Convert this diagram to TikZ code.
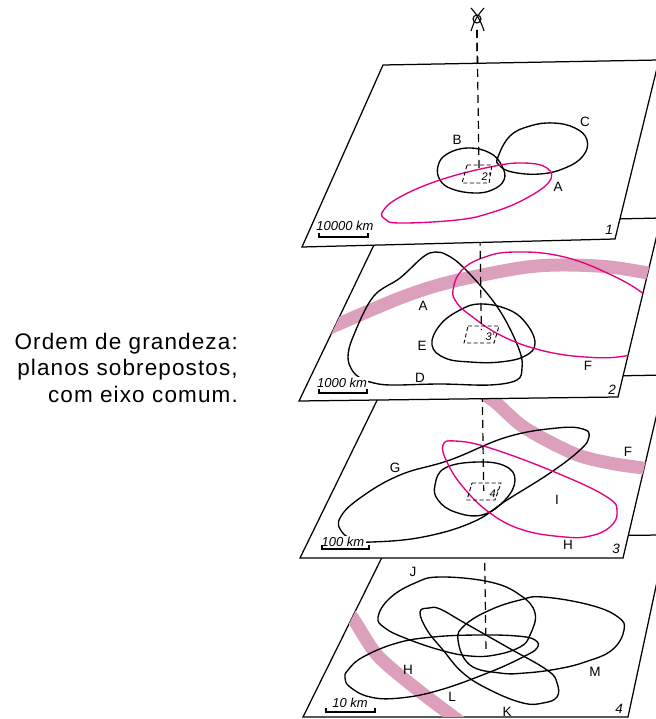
\documentclass[tikz,border=0pt]{standalone}
\usepackage{fontspec}
\setmainfont{Liberation Sans}
\newfontfamily\capfont[LetterSpace=5]{Liberation Sans}
\usetikzlibrary{calc}
\definecolor{pinkc}{RGB}{230,0,126}
\definecolor{bandc}{RGB}{220,160,188}
\tikzset{
  plane/.style={draw=black, fill=white, line width=1.25pt, line join=miter},
  curve/.style={line width=1.35pt},
  pinkcurve/.style={line width=1.35pt, draw=pinkc},
  band/.style={line width=13pt, draw=bandc},
  axisline/.style={line width=1.2pt, dash pattern=on 8pt off 5pt},
  minirect/.style={line width=0.9pt, dash pattern=on 4pt off 2.5pt},
  lbl/.style={font=\fontsize{13.5}{13.5}\selectfont, inner sep=0pt},
  ilbl/.style={font=\fontsize{13.5}{13.5}\selectfont\itshape, inner sep=0pt},
  slbl/.style={font=\fontsize{11}{11}\selectfont\itshape, inner sep=0pt},
  kmlbl/.style={font=\fontsize{13}{13}\selectfont\itshape, inner sep=1.5pt, fill=white},
  scalebar/.style={line width=1.1pt},
  captxt/.style={font=\fontsize{22.5}{26}\capfont, inner sep=0pt, anchor=base east},
}
\begin{document}
\begin{tikzpicture}[x=1pt, y=-1pt]
\useasboundingbox (0,0) rectangle (655,719);
\coordinate (axtop) at (477,30);
\coordinate (axbot) at (486,650);

% ---------------- plane 4 ----------------
\draw[plane] (392,537) -- (667,535) -- (628,717) -- (303,717) -- cycle;
\begin{scope}
\clip (392,537) -- (667,535) -- (628,717) -- (303,717) -- cycle;
\draw[band] plot[smooth] coordinates {(336,595) (354,620) (378,656) (418,690) (455,718) (470,730)};
\draw[curve] plot[smooth cycle, tension=0.7] coordinates {(378,617) (390,598) (415,583) (440,577) (490,582) (520,595) (535,613) (530,635) (520,647) (495,655) (470,656) (440,650) (405,638) (385,628)};
\draw[curve] plot[smooth cycle, tension=0.7] coordinates {(458,640) (465,625) (490,610) (520,600) (543,597) (590,605) (618,617) (624,630) (612,650) (585,662) (557,669) (525,673) (500,673) (470,665)};
\draw[curve] plot[smooth cycle, tension=0.7] coordinates {(420,612) (429,608) (440,609) (463,622) (507,647) (547,670) (557,683) (557,697) (543,703) (523,703) (490,690) (463,673) (443,650) (427,630)};
\draw[curve] plot[smooth cycle, tension=0.7] coordinates {(345,678) (350,687) (370,697) (400,698) (440,690) (490,672) (523,657) (537,648) (535,640) (517,636) (477,635) (433,637) (397,643) (363,657) (348,670)};
\end{scope}
\node[lbl] (J) at (413,572) {J};
\node[lbl] (M) at (595,672) {M};
\node[lbl] (K) at (507,712) {K};
\node[lbl] (L) at (452,697) {L};
\node[lbl] (H4) at (408,670) {H};
\node[kmlbl] (km4) at (350,703) {10 km};
\draw[scalebar] (326,708) -- (326,712) -- (375,712) -- (375,708);
\node[ilbl] (n4) at (619,709) {4};
\draw[axisline] (axtop) -- ($(axtop)!1.003!(axbot)$);

% ---------------- plane 3 ----------------
\draw[plane] (387,380) -- (666,375) -- (623,558) -- (300,558) -- cycle;
\begin{scope}
\clip (387,380) -- (666,375) -- (623,558) -- (300,558) -- cycle;
\draw[band] plot[smooth] coordinates {(470,385) (495,402) (525,428) (575,454) (615,464) (660,470)};
\draw[curve] plot[smooth cycle, tension=0.7] coordinates {(372,542) (423,537) (473,522) (507,500) (550,473) (580,450) (589,437) (583,429) (557,428) (507,437) (450,460) (400,475) (360,498) (340,518) (342,532) (355,540)};
\draw[curve] plot[smooth cycle, tension=0.7] coordinates {(435,485) (445,468) (477,462) (505,466) (515,480) (505,500) (482,515) (455,512) (438,500)};
\draw[pinkcurve] plot[smooth cycle, tension=0.7] coordinates {(443,445) (455,441) (490,448) (557,473) (607,497) (617,512) (610,527) (590,536) (565,537) (523,530) (490,513) (463,487) (447,462)};
\end{scope}
\draw[minirect] (472,483) -- (501,483) -- (495,500) -- (467,500) -- cycle;
\node[slbl] (r4) at (494,494) {4'};
\node[lbl] (G) at (395,468) {G};
\node[lbl] (I) at (557,500) {I};
\node[lbl] (H3) at (568,545) {H};
\node[lbl] (F3) at (628,452) {F};
\node[kmlbl] (km3) at (343,542) {100 km};
\draw[scalebar] (322,545) -- (322,549) -- (369,549) -- (369,545);
\node[ilbl] (n3) at (616,549) {3};
\draw[axisline] (axtop) -- ($(axtop)!0.7435!(axbot)$);

% ---------------- plane 2 ----------------
\draw[plane] (384,224) -- (661,218) -- (618,397) -- (299,401) -- cycle;
\begin{scope}
\clip (384,224) -- (661,218) -- (618,397) -- (299,401) -- cycle;
\draw[band] plot[smooth] coordinates {(325,330) (400,298) (450,282) (520,268) (560,265) (610,267) (665,276)};
\draw[curve] plot[smooth cycle, tension=0.6] coordinates {(370,382) (390,385) (440,384) (490,385) (517,380) (522,368) (520,352) (507,323) (490,297) (463,267) (447,255) (435,252) (423,257) (400,278) (373,297) (353,337) (348,357) (352,370) (360,378)};
\draw[curve] plot[smooth cycle, tension=0.7] coordinates {(432,345) (440,325) (460,310) (480,304) (507,309) (525,322) (535,343) (525,356) (500,362) (470,362) (445,358)};
\draw[pinkcurve] plot[smooth cycle, tension=0.7] coordinates {(453,290) (462,270) (485,257) (515,252) (560,256) (605,272) (645,295) (668,322) (660,345) (625,356) (585,357) (540,350) (500,335) (470,315) (457,303)};
\end{scope}
\draw[minirect] (468,326) -- (499,326) -- (494,343) -- (464,343) -- cycle;
\node[slbl] (r3) at (490,337) {3'};
\node[lbl] (A2) at (423,306) {A};
\node[lbl] (D) at (420,378) {D};
\node[lbl] (E) at (422,346) {E};
\node[lbl] (F2) at (588,366) {F};
\node[kmlbl] (km2) at (342,383) {1000 km};
\draw[scalebar] (319,389) -- (319,393) -- (367,393) -- (367,389);
\node[ilbl] (n2) at (612,390) {2};
\draw[axisline] (axtop) -- ($(axtop)!0.4839!(axbot)$);

% ---------------- plane 1 ----------------
\draw[plane] (383,65) -- (659,60) -- (615,239) -- (302,247) -- cycle;
\begin{scope}
\clip (383,65) -- (659,60) -- (615,239) -- (302,247) -- cycle;
\draw[curve] plot[smooth cycle, tension=0.7] coordinates {(438,166) (447,154) (468,148) (490,153) (502,166) (504,180) (492,190) (474,193) (452,189) (440,180)};
\draw[curve] plot[smooth cycle, tension=0.7] coordinates {(498,157) (510,136) (530,126) (553,123) (575,128) (587,140) (583,156) (565,168) (540,174) (512,172) (499,165)};
\draw[pinkcurve] plot[smooth cycle, tension=0.7] coordinates {(383,211) (400,197) (440,180) (490,167) (523,163) (547,168) (549,182) (523,200) (490,213) (457,220) (400,223) (385,219)};
\end{scope}
\draw[minirect] (467,165) -- (492,165) -- (489,183) -- (462,183) -- cycle;
\node[slbl] (r2) at (486,177) {2'};
\node[lbl] (B) at (457,140) {B};
\node[lbl] (C) at (585,122) {C};
\node[lbl] (A1) at (558,187) {A};
\node[kmlbl] (km1) at (345,226) {10000 km};
\draw[scalebar] (319,233) -- (319,237) -- (368,237) -- (368,233);
\node[ilbl] (n1) at (609,230) {1};
\draw[axisline] (axtop) -- ($(axtop)!0.2258!(axbot)$);

% ---------------- axis symbol ----------------
\draw[line width=1.1pt] (477,19) circle (4);
\draw[line width=1.1pt] (471,8) to[bend left=12] (484,31);
\draw[line width=1.1pt] (484,8) to[bend right=12] (471,31);

% ---------------- caption ----------------
\node[captxt] (cap1) at (238,349) {Ordem de grandeza:};
\node[captxt] (cap2) at (238,375) {planos sobrepostos,};
\node[captxt] (cap3) at (238,402) {com eixo comum.};
\end{tikzpicture}
\end{document}
